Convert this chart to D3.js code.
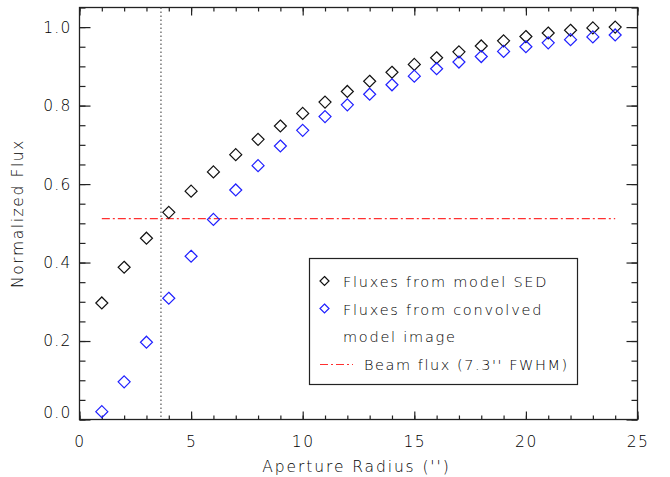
<!DOCTYPE html>
<html>
<head>
<meta charset="utf-8">
<script src="https://cdn.jsdelivr.net/npm/d3@7"></script>
<style>
  html, body { margin: 0; padding: 0; background: #fff; }
  svg { display: block; }
  text { font-family: "DejaVu Sans", "Liberation Sans", sans-serif; font-weight: 200; fill: #000; }
</style>
</head>
<body>
<svg id="chart" width="670" height="477"></svg>
<script>
// Aperture radii (arcsec)
const radii = d3.range(1, 25);
// Normalized flux from the model SED
const sedFlux = [0.297, 0.388, 0.462, 0.528, 0.582, 0.631, 0.675, 0.714, 0.748, 0.780,
  0.809, 0.836, 0.862, 0.885, 0.905, 0.922, 0.937, 0.952, 0.965, 0.976, 0.985, 0.992, 0.998, 1.000];
// Normalized flux from the convolved model image
const convFlux = [0.020, 0.096, 0.197, 0.309, 0.416, 0.510, 0.585, 0.647, 0.697, 0.737,
  0.772, 0.802, 0.829, 0.853, 0.875, 0.894, 0.911, 0.925, 0.938, 0.950, 0.960, 0.968, 0.975, 0.980];
// Beam flux level and its radial extent
const beamFlux = 0.512;
const beamRange = [1, 24];
// Beam half width marker (arcsec)
const beamRadius = 3.65;

const xTicks = [0, 5, 10, 15, 20, 25];
const yTicks = [0.0, 0.2, 0.4, 0.6, 0.8, 1.0];
const legendLabels = ["Fluxes from model SED", "Fluxes from convolved", "model image", "Beam flux (7.3'' FWHM)"];

const svg = d3.select("#chart");
const L = 79.5, R = 637.5, T = 7.5, B = 419.5;

const x = d3.scaleLinear().domain([0, 25]).range([L, R]);
const y = d3.scaleLinear().domain([0, 1.05]).range([B, T]);

const fontSize = 15.5;
const tickColor = "#222";

// Frame
svg.append("rect").attr("x", L).attr("y", T).attr("width", R - L).attr("height", B - T)
  .attr("fill", "none").attr("stroke", tickColor).attr("stroke-width", 1.3);

// Inward ticks via d3 axes (major + minor)
function styleAxis(g) {
  g.select(".domain").remove();
  g.selectAll(".tick line").attr("stroke", tickColor).attr("stroke-width", 1.2);
}
function styleLabels(g, ls) {
  g.selectAll(".tick text").attr("font-size", fontSize).attr("letter-spacing", ls)
    .attr("fill", "#000")
    .style("font-family", "'DejaVu Sans', sans-serif").style("font-weight", 200);
}
const xMinor = d3.range(0, 26, 1);
const yMinor = d3.range(0, 1.051, 0.05);

// bottom
svg.append("g").attr("transform", `translate(0,${B})`)
  .call(d3.axisBottom(x).tickValues(xMinor).tickSize(-4).tickFormat("")).call(styleAxis);
svg.append("g").attr("transform", `translate(0,${B})`)
  .call(d3.axisBottom(x).tickValues(xTicks).tickSize(-8).tickPadding(16).tickFormat(d3.format("d")))
  .call(styleAxis).call(g => styleLabels(g, 1.5));
// top
svg.append("g").attr("transform", `translate(0,${T})`)
  .call(d3.axisTop(x).tickValues(xMinor).tickSize(-4).tickFormat("")).call(styleAxis);
svg.append("g").attr("transform", `translate(0,${T})`)
  .call(d3.axisTop(x).tickValues(xTicks).tickSize(-8).tickFormat("")).call(styleAxis);
// left
svg.append("g").attr("transform", `translate(${L},0)`)
  .call(d3.axisLeft(y).tickValues(yMinor).tickSize(-6).tickFormat("")).call(styleAxis);
svg.append("g").attr("transform", `translate(${L},0)`)
  .call(d3.axisLeft(y).tickValues(yTicks).tickSize(-11).tickPadding(8).tickFormat(d3.format(".1f")))
  .call(styleAxis).call(g => styleLabels(g, 1.2))
  .call(g => g.selectAll(".tick text").attr("dy", d => d === 0 ? "-0.1em" : "0.32em"));
// right
svg.append("g").attr("transform", `translate(${R},0)`)
  .call(d3.axisRight(y).tickValues(yMinor).tickSize(-6).tickFormat("")).call(styleAxis);
svg.append("g").attr("transform", `translate(${R},0)`)
  .call(d3.axisRight(y).tickValues(yTicks).tickSize(-11).tickFormat("")).call(styleAxis);

// Axis titles
svg.append("text").attr("x", (L + R) / 2 - 2).attr("y", 472)
  .attr("text-anchor", "middle").attr("font-size", fontSize).attr("letter-spacing", 1.9)
  .text("Aperture Radius ('')");
svg.append("text").attr("transform", `translate(23,${(T + B) / 2}) rotate(-90)`)
  .attr("text-anchor", "middle").attr("font-size", fontSize).attr("letter-spacing", 1.6)
  .text("Normalized Flux");

// Beam radius marker
svg.append("line").attr("x1", x(beamRadius)).attr("x2", x(beamRadius))
  .attr("y1", T).attr("y2", B)
  .attr("stroke", "#555").attr("stroke-width", 1.2).attr("stroke-dasharray", "1.5,2.5");

// Beam flux level
svg.append("line").attr("x1", x(beamRange[0])).attr("x2", x(beamRange[1]))
  .attr("y1", y(beamFlux)).attr("y2", y(beamFlux))
  .attr("stroke", "#ff3030").attr("stroke-width", 1.2).attr("stroke-dasharray", "8,3,2,3");

// Diamond markers
const diamond = (s) => `M0,${-s}L${s},0L0,${s}L${-s},0Z`;
function drawSeries(vals, color) {
  svg.append("g").selectAll("path").data(radii.map((r, i) => [r, vals[i]])).join("path")
    .attr("transform", d => `translate(${x(d[0])},${y(d[1])})`)
    .attr("d", diamond(6))
    .attr("fill", "none").attr("stroke", color).attr("stroke-width", 1.2);
}
drawSeries(sedFlux, "#111");
drawSeries(convFlux, "#2020ff");

// Legend
const lg = svg.append("g");
lg.append("rect").attr("x", 309.5).attr("y", 258.5).attr("width", 268).attr("height", 126)
  .attr("fill", "#fff").attr("stroke", "#222").attr("stroke-width", 1.2);
const rowsY = [282, 309.5, 337, 364.5];
lg.append("path").attr("transform", `translate(324.5,${rowsY[0] - 1})`).attr("d", diamond(4.5))
  .attr("fill", "none").attr("stroke", "#111").attr("stroke-width", 1.2);
lg.append("path").attr("transform", `translate(324.5,${rowsY[1] - 1})`).attr("d", diamond(4.5))
  .attr("fill", "none").attr("stroke", "#2020ff").attr("stroke-width", 1.2);
lg.append("line").attr("x1", 320).attr("x2", 353).attr("y1", rowsY[3]).attr("y2", rowsY[3])
  .attr("stroke", "#ff3030").attr("stroke-width", 1.2).attr("stroke-dasharray", "8,3,2,3");
const textX = [343, 343, 343, 364];
const textLS = [1.75, 1.75, 1.75, 1.55];
lg.selectAll("text.lab").data(legendLabels).join("text").attr("class", "lab")
  .attr("x", (d, i) => textX[i]).attr("y", (d, i) => rowsY[i]).attr("dy", "0.36em")
  .attr("font-size", 14.5).attr("letter-spacing", (d, i) => textLS[i]).text(d => d);
</script>
</body>
</html>
